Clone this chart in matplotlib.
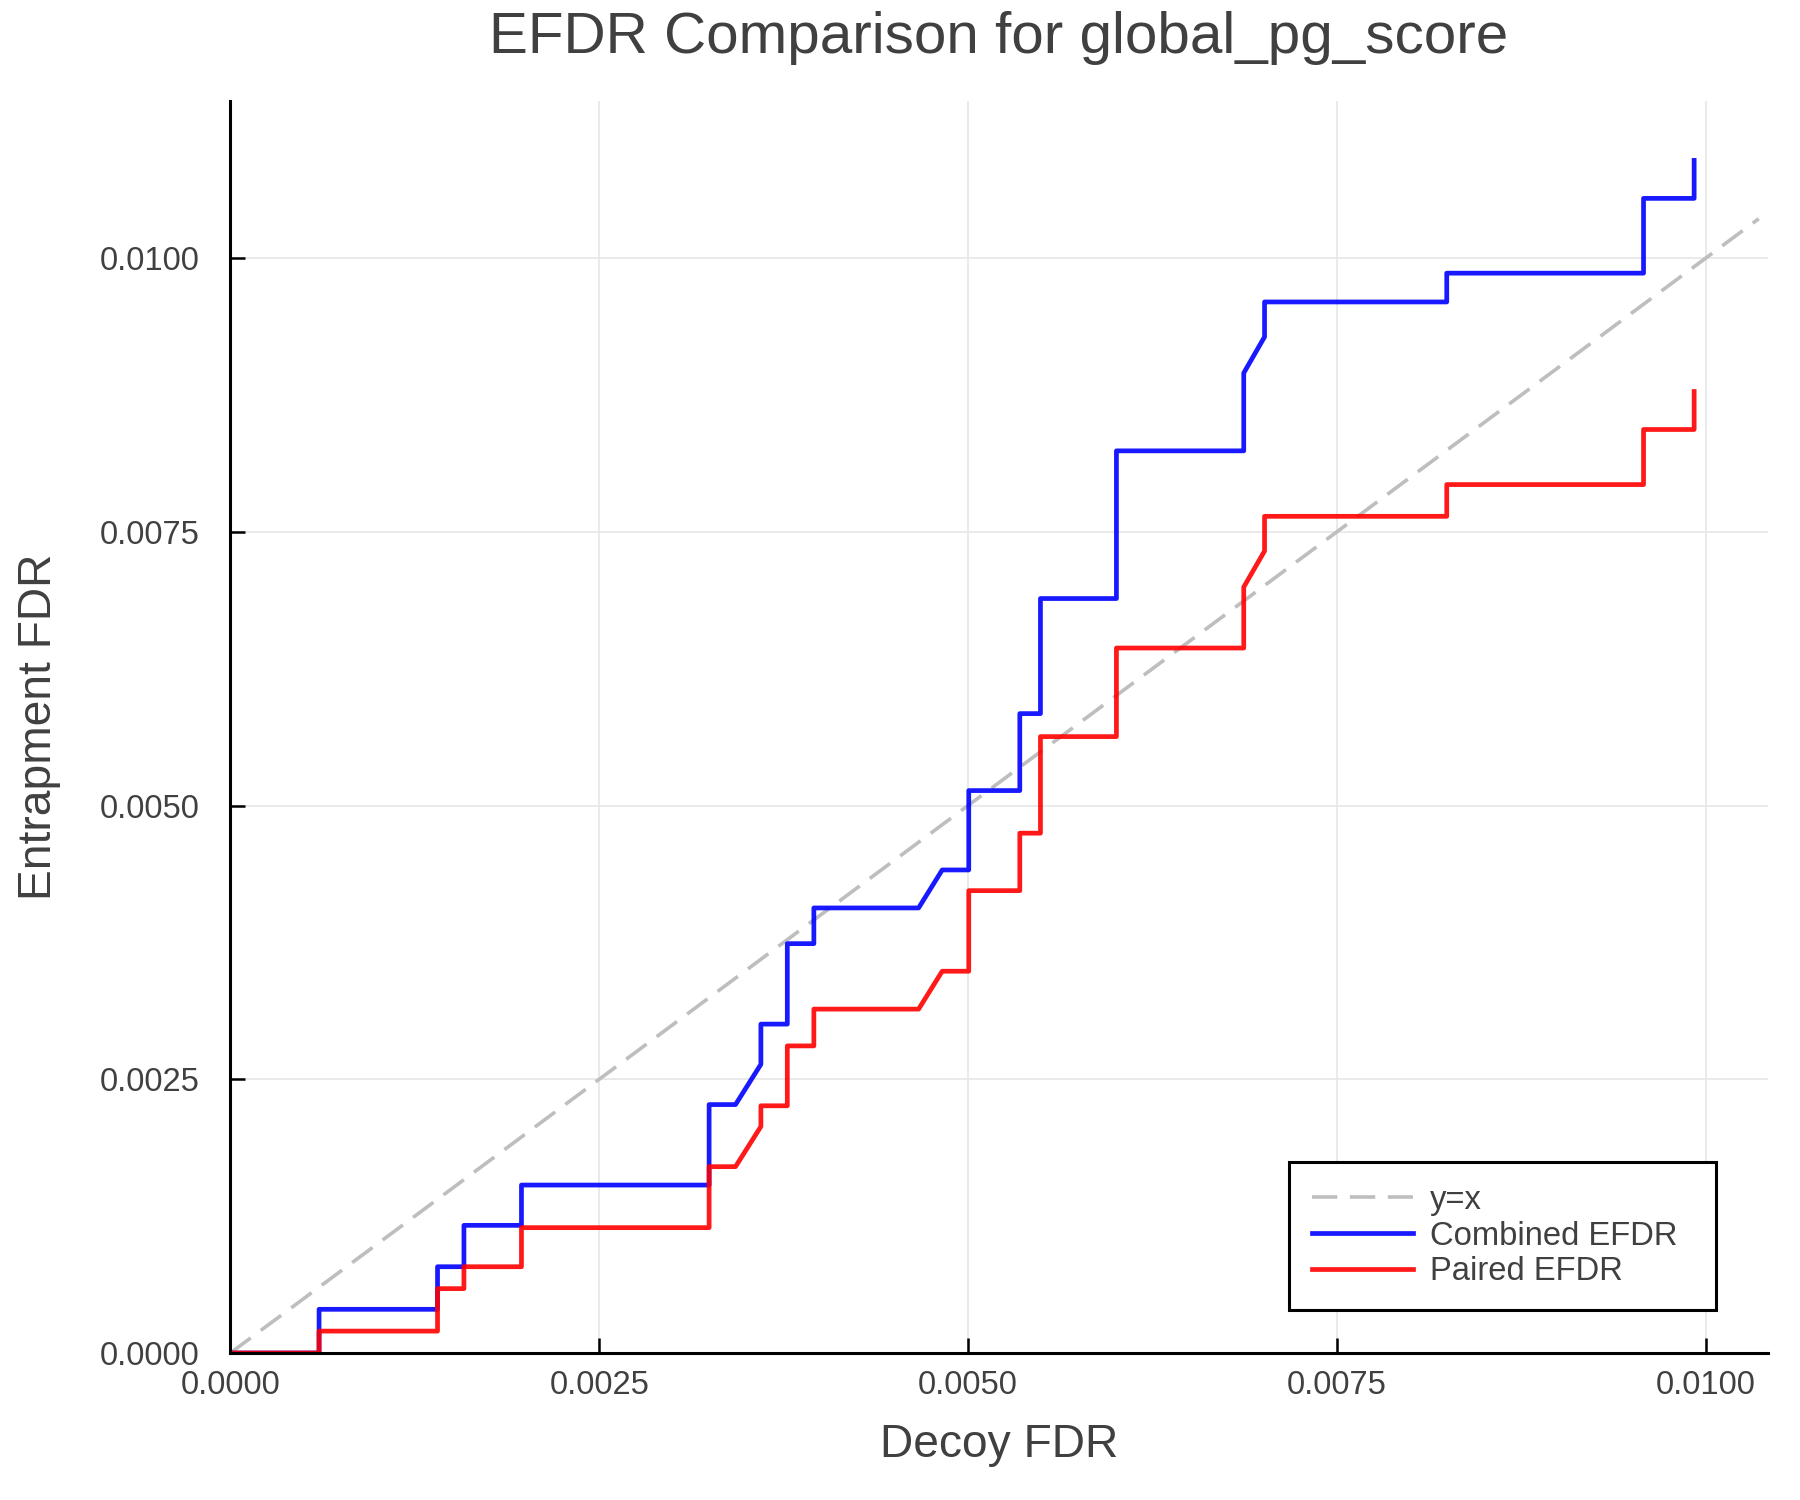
import matplotlib.pyplot as plt

# decoy FDR points (shared by both curves)
decoy_fdr = [0.0, 0.000601, 0.000601, 0.001404, 0.001404, 0.001583, 0.001583,
             0.001973, 0.001973, 0.003245, 0.003245, 0.003424, 0.003596, 0.003596,
             0.003775, 0.003775, 0.003955, 0.003955, 0.004665, 0.004825, 0.005005,
             0.005005, 0.005351, 0.005351, 0.005491, 0.005491, 0.006006, 0.006006,
             0.006869, 0.006869, 0.007010, 0.007010, 0.008245, 0.008245, 0.009579,
             0.009579, 0.009922, 0.009922]

combined_efdr = [0.0, 0.0, 0.000399, 0.000399, 0.000788, 0.000788, 0.001166,
                 0.001166, 0.001534, 0.001534, 0.002269, 0.002269, 0.002637, 0.003004,
                 0.003004, 0.003739, 0.003739, 0.004065, 0.004065, 0.004412, 0.004412,
                 0.005137, 0.005137, 0.005840, 0.005840, 0.006891, 0.006891, 0.008240,
                 0.008240, 0.008951, 0.009281, 0.009600, 0.009600, 0.009863, 0.009863,
                 0.010546, 0.010546, 0.010893]

paired_efdr = [0.0, 0.0, 0.000200, 0.000200, 0.000588, 0.000588, 0.000788,
               0.000788, 0.001145, 0.001145, 0.001702, 0.001702, 0.002069, 0.002258,
               0.002258, 0.002805, 0.002805, 0.003141, 0.003141, 0.003487, 0.003487,
               0.004223, 0.004223, 0.004748, 0.004748, 0.005630, 0.005630, 0.006439,
               0.006439, 0.006996, 0.007325, 0.007642, 0.007642, 0.007932, 0.007932,
               0.008435, 0.008435, 0.008782]

diag = [0.0, 0.01036]
ticks = [0.0, 0.0025, 0.005, 0.0075, 0.01]
tick_labels = ['0.0000', '0.0025', '0.0050', '0.0075', '0.0100']

txt = '#404040'
plt.rcParams['font.family'] = ['Liberation Sans', 'DejaVu Sans']

fig = plt.figure(figsize=(9, 7.5), dpi=200)
ax = fig.add_axes([0.128, 0.098, 0.854, 0.835])

ax.plot(diag, diag, color='#bebebe', lw=1.3, dashes=(7, 3.5), label='y=x')
ax.plot(decoy_fdr, combined_efdr, color='blue', alpha=0.9, lw=1.7, label='Combined EFDR')
ax.plot(decoy_fdr, paired_efdr, color='red', alpha=0.9, lw=1.7, label='Paired EFDR')

ax.set_xlim(0, 0.01042)
ax.set_ylim(0, 0.01144)
ax.set_xticks(ticks)
ax.set_xticklabels(tick_labels)
ax.set_yticks(ticks)
ax.set_yticklabels(tick_labels)
ax.grid(True, color='#e6e6e6', lw=0.6)
ax.set_axisbelow(True)

for side in ['top', 'right']:
    ax.spines[side].set_visible(False)
for side in ['left', 'bottom']:
    ax.spines[side].set_linewidth(1.1)
ax.tick_params(axis='both', direction='in', length=5.5, width=0.9,
               labelsize=11.8, labelcolor=txt)
ax.tick_params(axis='x', pad=6)
ax.tick_params(axis='y', pad=11)

ax.set_title('EFDR Comparison for global_pg_score', fontsize=21, color=txt, pad=17)
ax.set_xlabel('Decoy FDR', fontsize=16.6, color=txt, labelpad=8)
ax.set_ylabel('Entrapment FDR', fontsize=16.6, color=txt, labelpad=14)

leg = ax.legend(loc='lower right', bbox_to_anchor=(0.6886, 0.034, 0.2777, 0.12),
                mode='expand', borderaxespad=0, fontsize=11.8, handlelength=3.1,
                handletextpad=0.5, labelspacing=0.15, borderpad=0.7,
                fancybox=False, framealpha=1)
leg.get_frame().set_edgecolor('black')
leg.get_frame().set_linewidth(1.1)
for t in leg.get_texts():
    t.set_color(txt)

fig.savefig('out.png')
plt.close(fig)
